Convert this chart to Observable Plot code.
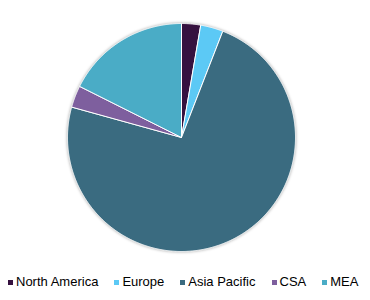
<!DOCTYPE html>
<html>
<head>
<meta charset="utf-8">
<script src="https://cdn.jsdelivr.net/npm/d3@7"></script>
<script src="https://cdn.jsdelivr.net/npm/@observablehq/plot@0.6"></script>
<style>
  html, body { margin: 0; padding: 0; background: #fff; }
  #chart svg g[aria-label="line"] { filter: drop-shadow(0px 0px 1.5px rgba(0,0,0,0.35)); }
  #legend { display: flex; align-items: center; height: 32px; padding-left: 8px;
    font-family: "Liberation Sans", Arial, sans-serif; font-size: 13px; color: #000; }
  .item { display: flex; align-items: center; margin-right: 16px; white-space: nowrap; }
  .sw { width: 5px; height: 5px; margin-right: 3px; margin-top: 2px; }
</style>
</head>
<body>
<div id="chart"></div>
<div id="legend"></div>
<script>
const regions = ["North America", "Europe", "Asia Pacific", "CSA", "MEA"];
const shares = [2.7, 3.2, 73.4, 3.1, 17.6];
const colors = ["#35113f", "#5cc9f5", "#3a6b80", "#7e5f9e", "#4aacc6"];

const pie = d3.pie().sort(null).value(d => d.share)(regions.map((r, i) => ({region: r, share: shares[i]})));
const pts = [];
for (const s of pie) {
  const r = s.data.region;
  pts.push({region: r, x: 0, y: 0});
  const n = Math.max(2, Math.ceil((s.endAngle - s.startAngle) / 0.005));
  for (let k = 0; k <= n; k++) {
    const a = s.startAngle + (s.endAngle - s.startAngle) * k / n;
    pts.push({region: r, x: Math.sin(a), y: Math.cos(a)});
  }
  pts.push({region: r, x: 0, y: 0});
}

const chart = Plot.plot({
  width: 370,
  height: 265,
  marginLeft: 67, marginRight: 75, marginTop: 23, marginBottom: 14,
  x: {domain: [-1, 1], axis: null},
  y: {domain: [-1, 1], axis: null},
  color: {domain: regions, range: colors},
  marks: [
    Plot.line(pts, {x: "x", y: "y", z: "region", fill: "region", stroke: "white", strokeWidth: 1, strokeLinejoin: "round", curve: "linear"})
  ]
});
document.getElementById("chart").appendChild(chart);

const legend = document.getElementById("legend");
regions.forEach((r, i) => {
  const it = document.createElement("div");
  it.className = "item";
  const sw = document.createElement("div");
  sw.className = "sw";
  sw.style.background = colors[i];
  const t = document.createElement("span");
  t.textContent = r;
  it.appendChild(sw); it.appendChild(t);
  legend.appendChild(it);
});
</script>
</body>
</html>
